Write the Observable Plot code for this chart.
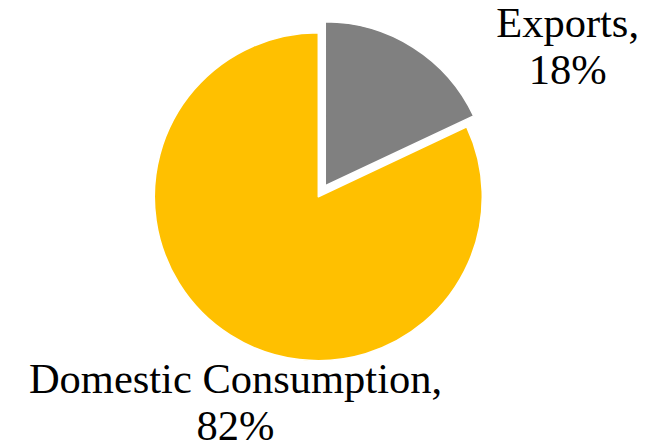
<!DOCTYPE html>
<html>
<head>
<meta charset="utf-8">
<script src="https://cdn.jsdelivr.net/npm/d3@7"></script>
<script src="https://cdn.jsdelivr.net/npm/@observablehq/plot@0.6"></script>
<style>
  html, body { margin: 0; padding: 0; background: #fff; }
  #chart svg { display: block; }
</style>
</head>
<body>
<div id="chart"></div>
<script>
// ---- data ----
const categories = ["Exports", "Domestic Consumption"];
const shares = [18, 82];
const sliceColors = ["#808080", "#FFC000"];

// ---- layout (not data) ----
const explodeIndex = 0;
const explodePx = 13;
const labelAnchors = [
  {x: 1.517, y: 1.18},   // Exports label (data units of the unit-circle frame)
  {x: -0.508, y: -0.993} // Domestic Consumption label
];

const slices = d3.pie().sort(null).value(d => d.value)(
  categories.map((c, i) => ({category: c, value: shares[i], color: sliceColors[i]}))
);

const labels = categories.map((c, i) => ({
  text: `${c},\n${shares[i]}%`,
  x: labelAnchors[i].x,
  y: labelAnchors[i].y
}));

function pieMark(index, scales) {
  const cx = scales.x(0), cy = scales.y(0);
  const r = scales.x(1) - scales.x(0);
  const arc = d3.arc().innerRadius(0).outerRadius(r);
  const g = d3.create("svg:g");
  slices.forEach((s, i) => {
    const mid = (s.startAngle + s.endAngle) / 2;
    const off = i === explodeIndex ? explodePx : 0;
    const dx = Math.sin(mid) * off, dy = -Math.cos(mid) * off;
    g.append("path")
      .attr("d", arc(s))
      .attr("transform", `translate(${cx + dx},${cy + dy})`)
      .attr("fill", s.data.color)
      .attr("stroke", "#fff")
      .attr("stroke-width", 1.5)
      .attr("stroke-linejoin", "round");
  });
  return g.node();
}

const chart = Plot.plot({
  width: 659,
  height: 447,
  marginLeft: 154.3,
  marginRight: 176.7,
  marginTop: 32.7,
  marginBottom: 86.3,
  x: {domain: [-1, 1], axis: null},
  y: {domain: [-1, 1], axis: null},
  style: {fontFamily: "'Liberation Serif', 'Times New Roman', serif", background: "#fff"},
  marks: [
    pieMark,
    Plot.text(labels, {
      x: "x", y: "y", text: "text",
      fontSize: 42.5,
      lineHeight: 1.106,
      lineAnchor: "top",
      textAnchor: "middle",
      fill: "#000"
    })
  ]
});
document.getElementById("chart").appendChild(chart);
</script>
</body>
</html>
